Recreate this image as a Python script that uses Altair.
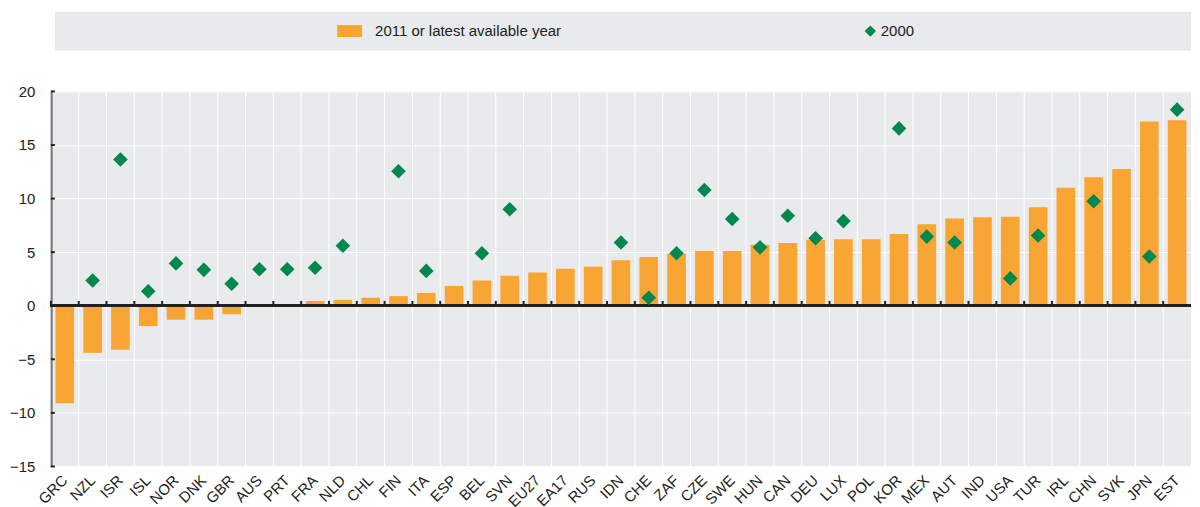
import altair as alt
import pandas as pd

cats = ["GRC", "NZL", "ISR", "ISL", "NOR", "DNK", "GBR", "AUS", "PRT", "FRA",
        "NLD", "CHL", "FIN", "ITA", "ESP", "BEL", "SVN", "EU27", "EA17", "RUS",
        "IDN", "CHE", "ZAF", "CZE", "SWE", "HUN", "CAN", "DEU", "LUX", "POL",
        "KOR", "MEX", "AUT", "IND", "USA", "TUR", "IRL", "CHN", "SVK", "JPN", "EST"]
v2011 = [-9.1, -4.4, -4.1, -1.9, -1.3, -1.3, -0.8, -0.05, 0.0, 0.45,
         0.55, 0.75, 0.9, 1.2, 1.85, 2.35, 2.8, 3.1, 3.45, 3.65,
         4.25, 4.55, 4.85, 5.1, 5.1, 5.7, 5.85, 6.15, 6.2, 6.2,
         6.7, 7.6, 8.15, 8.25, 8.3, 9.2, 11.0, 12.0, 12.75, 17.2, 17.3]
v2000 = [None, 2.35, 13.65, 1.35, 3.95, 3.35, 2.05, 3.4, 3.4, 3.55,
         5.6, None, 12.55, 3.25, None, 4.9, 9.0, None, None, None,
         5.9, 0.75, 4.9, 10.8, 8.1, 5.45, 8.4, 6.3, 7.9, None,
         16.55, 6.45, 5.9, None, 2.55, 6.55, None, 9.75, None, 4.6, 18.3]
y_ticks = [-15, -10, -5, 0, 5, 10, 15, 20]
series1 = "2011 or latest available year"
series2 = "2000"

ORANGE = "#F9A533"
GREEN = "#008850"
BG = "#E9EAEC"
FONT = "Liberation Sans, Arial, Helvetica, sans-serif"
W = 1143

df = pd.DataFrame({"cat": cats, "v2011": v2011, "v2000": v2000,
                   "s1": series1, "s2": series2})
tick_df = pd.DataFrame({"t": y_ticks})
one = pd.DataFrame({"a": [0]})

xscale = alt.Scale(paddingInner=0, paddingOuter=0)
yscale = alt.Scale(domain=[-15, 20], nice=False)
noaxis_title = alt.Axis(title=None)

base = alt.Chart(df)

box = alt.Chart(one).mark_rect(color=BG).encode(
    x=alt.value(4), x2=alt.value(W), y=alt.value(-80), y2=alt.value(-41)
)

vgrid = base.mark_rule(color="white", strokeWidth=1).encode(
    x=alt.X("cat:N", sort=cats, bandPosition=0, scale=xscale, axis=noaxis_title)
)

bars = base.mark_bar(width=alt.RelativeBandSize(0.67)).encode(
    x=alt.X("cat:N", sort=cats, scale=xscale, axis=noaxis_title),
    y=alt.Y("v2011:Q", scale=yscale, axis=noaxis_title),
    color=alt.Color("s1:N", scale=alt.Scale(range=[ORANGE]),
                    legend=alt.Legend(title=None, orient="none", legendX=287, legendY=-73,
                                      symbolType="M-1,-0.48H1V0.48H-1Z", symbolSize=625,
                                      symbolStrokeWidth=0, labelOffset=13, padding=0,
                                      labelLimit=1000,
                                      labelFontSize=15, labelFont=FONT, labelColor="#222222")),
)

zero = base.mark_rule(color="#222222", strokeWidth=2).encode(y=alt.datum(0))

zticks = base.mark_rule(color="#222222", strokeWidth=2).encode(
    x=alt.X("cat:N", sort=cats, bandPosition=0, scale=xscale, axis=noaxis_title),
    y=alt.datum(0), y2=alt.datum(0.45)
)

yticks = alt.Chart(tick_df).mark_rule(color="#222222", strokeWidth=2).encode(
    y=alt.Y("t:Q", scale=yscale, axis=noaxis_title),
    x=alt.value(0), x2=alt.value(4)
)

points = base.mark_point(filled=True, size=215, opacity=1, color=GREEN).encode(
    x=alt.X("cat:N", sort=cats, scale=xscale, axis=noaxis_title),
    y=alt.Y("v2000:Q", scale=yscale, axis=noaxis_title),
    shape=alt.Shape("s2:N", scale=alt.Scale(range=["diamond"]),
                    legend=alt.Legend(title=None, orient="none", legendX=814, legendY=-68,
                                      symbolSize=130, symbolFillColor=GREEN,
                                      symbolStrokeWidth=0, labelOffset=3, padding=0,
                                      labelLimit=1000,
                                      labelFontSize=15, labelFont=FONT, labelColor="#222222")),
)

chart = alt.layer(box, vgrid, bars, zero, zticks, yticks, points).properties(
    width=W, height=376,
    padding={"left": 1, "top": 3, "right": 0, "bottom": 0},
    background="white",
).configure_view(
    stroke=None, fill=BG
).configure_axisX(
    grid=False, domain=False, ticks=False, labelAngle=-45, labelFontSize=15,
    labelFont=FONT, labelColor="#222222", labelPadding=11, labelBaseline="middle",
    labelAlign="right"
).configure_axisY(
    grid=True, gridColor="white", gridWidth=1, domain=True, domainColor="#222222",
    domainWidth=2, ticks=False, labelFontSize=15, labelFont=FONT,
    labelColor="#222222", labelPadding=16, values=y_ticks
).configure_legend(
    padding=0
)

chart.save("out.html", embed_options={"renderer": "svg", "actions": False})
